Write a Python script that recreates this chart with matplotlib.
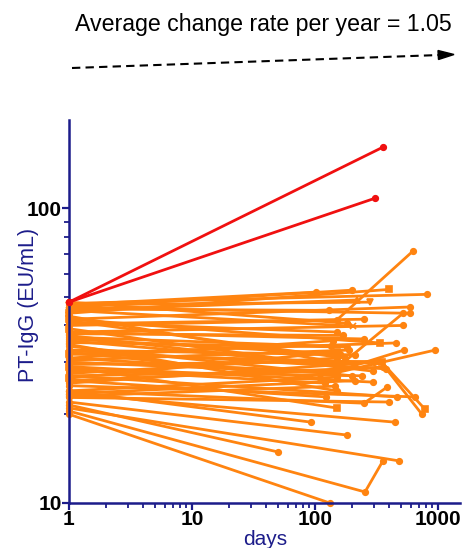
import matplotlib
matplotlib.use("Agg")
import matplotlib.pyplot as plt
from matplotlib.lines import Line2D
from matplotlib.ticker import FixedLocator, NullFormatter

plt.rcParams['font.family'] = ['Liberation Sans', 'DejaVu Sans']

# per subject: days since first sample, PT-IgG values (EU/mL), end marker
orange_days = [
    [1, 102], [1, 200], [1, 400], [1, 814], [1, 220], [1, 280], [1, 590],
    [1, 140, 520], [1, 590], [1, 150, 626], [1, 182], [1, 203], [1, 520],
    [1, 150], [1, 250], [1, 182], [1, 336], [1, 456], [1, 150, 528],
    [1, 140, 946], [1, 211], [1, 357], [1, 296], [1, 150], [1, 150],
    [1, 296], [1, 380, 740], [1, 350, 784], [1, 145], [1, 650], [1, 464],
    [1, 250, 385], [1, 123], [1, 150], [1, 93], [1, 446], [1, 182], [1, 50],
    [1, 480], [1, 255, 357], [1, 132], [1, 150], [1, 150], [1, 160],
    [1, 140], [1, 150], [1, 200], [1, 300], [1, 120], [1, 170], [1, 130],
    [1, 250], [1, 400], [1, 150], [1, 190], [1, 110], [1, 240], [1, 150],
    [1, 175], [1, 320], [1, 150], [1, 210], [1, 135],
]
orange_vals = [
    [47, 51.9], [46, 52.7], [44, 53], [47.5, 51], [45, 48.8], [47, 48], [42, 46.2],
    [27, 28, 44], [46, 44], [40, 41.7, 71.5], [48, 40.7], [45, 39.8], [38, 40],
    [41, 38], [38, 36], [35, 33.8], [42, 34.9], [32, 34.9], [30, 28, 33],
    [31, 27.5, 33], [33, 31.8], [26, 28.9], [37, 28], [30, 27.6], [24, 26.7],
    [29, 25.7], [33, 28.5, 20], [32, 30, 20.8], [23, 24.9], [25, 22.9], [27, 22.9],
    [24, 21.8, 24.7], [26, 22.9], [29, 21], [24, 18.8], [23.5, 18.8], [22, 17], [21.5, 14.9],
    [21, 13.9], [20.5, 10.9, 13.9], [20, 10], [43, 30], [39, 29], [36, 32],
    [31, 35.5], [27.5, 31], [34, 27], [25.5, 30], [28.5, 25.5], [37.5, 37], [45.5, 45],
    [40.5, 42], [22.8, 22], [35.5, 29.5], [30.5, 33], [32.5, 26.5], [28, 27],
    [26.5, 32.5], [41.5, 31], [29.5, 30.2], [34.5, 24], [23.5, 26], [36.5, 34],
]
orange_markers = [
    'o', 'o', 's', 'o', '^', 'v', 'o', 'o', 'o', 'o', 'o', 'x', 'o',
    'o', 'o', 'o', 's', 'o', 'o', 'o', 'o', 'o', 'o', 'o', 'o',
    'o', 'o', 's', 'o', 'o', 'o', 'o', 'o', 's', 'o', 'o', 'o', 'o',
    'o', 'o', 'o', 'o', 's', 'o', 'o', 'o', 'o', 'o', 'o', 'o', 'o',
    'o', 'o', 'o', 'o', 'o', 'o', 's', 'o', 'o', 'o', 'o', 'o',
]
red_days = [[1, 357], [1, 307]]
red_vals = [[48, 161], [48, 108]]

x_ticks = [1, 10, 100, 1000]
y_ticks = [10, 100]
title_text = "Average change rate per year = 1.05"

navy = '#1c1c8a'
orange = '#ff8410'
red = '#f01010'

fig = plt.figure(figsize=(4.72, 5.48), dpi=100)
ax = fig.add_axes([69 / 472, 1 - 503 / 548, (460 - 69) / 472, (503 - 120) / 548])

for d, v, m in zip(orange_days, orange_vals, orange_markers):
    ax.plot(d, v, color=orange, lw=2.0, marker=m, ms=4, mew=1.2, clip_on=False, zorder=2)
for d, v in zip(red_days, red_vals):
    ax.plot(d, v, color=red, lw=2.0, marker='o', ms=4.2, clip_on=False, zorder=3)

ax.set_xscale('log')
ax.set_yscale('log')
ax.set_xlim(1, 1510)
ax.set_ylim(10, 199)

ax.xaxis.set_major_locator(FixedLocator(x_ticks))
ax.yaxis.set_major_locator(FixedLocator(y_ticks))
ax.set_xticklabels([str(t) for t in x_ticks], fontsize=15, fontweight='bold')
ax.set_yticklabels([str(t) for t in y_ticks], fontsize=15, fontweight='bold')
ax.xaxis.set_minor_formatter(NullFormatter())
ax.yaxis.set_minor_formatter(NullFormatter())

for s in ['top', 'right']:
    ax.spines[s].set_visible(False)
for s in ['left', 'bottom']:
    ax.spines[s].set_color(navy)
    ax.spines[s].set_linewidth(1.8)
ax.tick_params(which='major', direction='out', length=5, width=1.6, color=navy, pad=0)
ax.tick_params(which='minor', direction='out', length=3.5, width=1.3, color=navy)

ax.set_xlabel('days', color=navy, fontsize=15)
ax.xaxis.set_label_coords((265 - 69) / 391, -(530 - 503) / 383)
ax.set_ylabel('PT-IgG (EU/mL)', color=navy, fontsize=15.5)
ax.yaxis.set_label_coords((39 - 69) / 391, (503 - 305) / 383)

fig.text(75 / 472, 1 - 24 / 548, title_text, fontsize=16.7, ha='left', va='center')
# dashed trend arrow
fig.add_artist(Line2D([72 / 472, 440 / 472], [1 - 68 / 548, 1 - 55 / 548],
                      transform=fig.transFigure, color='black', lw=1.5, ls=(0, (4, 2.5))))
fig.add_artist(plt.Polygon([[438 / 472, 1 - 50.5 / 548], [454 / 472, 1 - 54.5 / 548],
                            [438.5 / 472, 1 - 59.5 / 548]],
                           closed=True, transform=fig.transFigure, color='black'))

fig.savefig('out.png', dpi=100)
